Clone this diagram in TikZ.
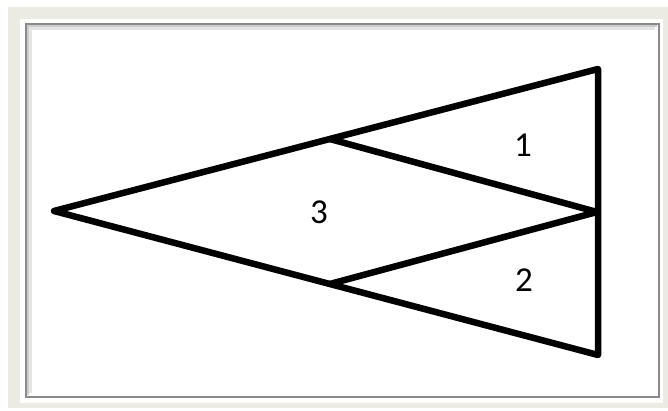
\documentclass[tikz,border=0pt]{standalone}
\usepackage{fontspec}
\setmainfont{Carlito}
\usetikzlibrary{calc}
\definecolor{framebg}{HTML}{ECEBE3}
\definecolor{frameline}{HTML}{8A8A8A}
\begin{document}
\begin{tikzpicture}[x=1pt,y=1pt,
  edge/.style={line width=6.5pt,line join=round,line cap=round},
  lbl/.style={font=\fontsize{35}{37}\selectfont,inner sep=0pt}]
\useasboundingbox (0,0) rectangle (668,411);
\fill[white] (0,0) rectangle (668,411);
\fill[framebg] (8,3) rectangle (668,404);
\fill[white] (20,8) rectangle (663,392);
\fill[white] (25,13) rectangle (660,388);
\draw[frameline,line width=1.6pt] (25.8,13.8) rectangle (659.2,387.2);
\draw[gray!40,line width=2pt] (28,16) -- (28,385) -- (657,385);
\draw[gray!20,line width=3pt] (30.5,18) -- (30.5,382.5) -- (655,382.5);
% main shape
\coordinate (L) at (54,200);
\coordinate (TR) at (598,342);
\coordinate (BR) at (598,56);
\coordinate (MR) at (597,199);
\coordinate (UJ) at ($(L)!0.507!(TR)$);
\coordinate (LJ) at ($(L)!0.507!(BR)$);
\draw[edge] (L) -- (TR) -- (BR) -- cycle;
\draw[edge] (UJ) -- (MR) -- (LJ);
\node[lbl] (n1) at (523,266) {1};
\node[lbl] (n2) at (524,131) {2};
\node[lbl] (n3) at (319,199) {3};
\end{tikzpicture}
\end{document}
